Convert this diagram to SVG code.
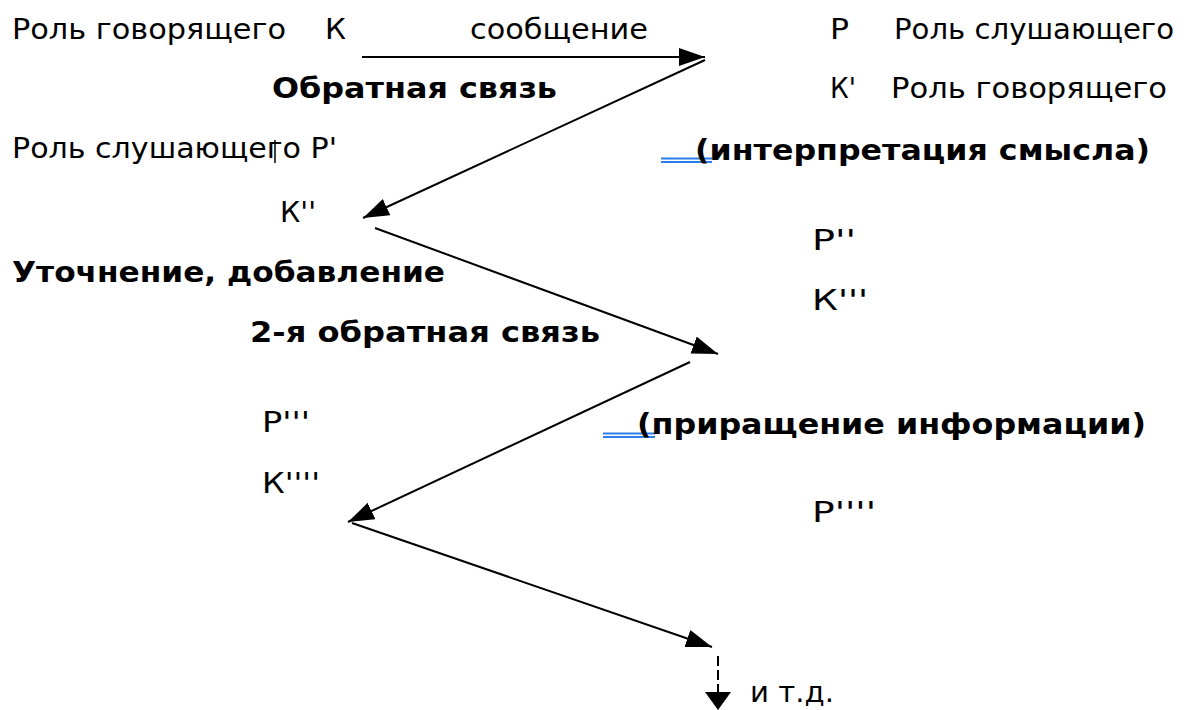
<svg xmlns="http://www.w3.org/2000/svg" width="1193" height="710" viewBox="0 0 1193 710">
<style>
text{font-family:"DejaVu Sans","Verdana",sans-serif;font-size:28px;fill:#000}
.b{font-weight:bold}
.c{stroke:#000;stroke-width:2;fill:none}
.u{stroke:#2b7de9;stroke-width:1.8}
</style>
<defs>
<marker id="ah" markerUnits="userSpaceOnUse" markerWidth="28" markerHeight="20" refX="26" refY="9" orient="auto">
<path d="M0,0 L26,9 L0,18 z" fill="#000"/>
</marker>
<marker id="ahs" markerUnits="userSpaceOnUse" markerWidth="20" markerHeight="28" refX="18" refY="13" orient="auto">
<path d="M0,0 L18,13 L0,26 z" fill="#000"/>
</marker>
</defs>
<rect width="1193" height="710" fill="#fff"/>
<g id="connectors">
<line class="c" x1="362" y1="57" x2="705" y2="57" marker-end="url(#ah)"/>
<line class="c" x1="705" y1="60" x2="363" y2="218" marker-end="url(#ah)"/>
<line class="c" x1="375" y1="228" x2="718" y2="354" marker-end="url(#ah)"/>
<line class="c" x1="690" y1="362" x2="348" y2="522" marker-end="url(#ah)"/>
<line class="c" x1="352" y1="523" x2="712" y2="647" marker-end="url(#ah)"/>
<line class="c" x1="718" y1="656" x2="718" y2="710" stroke-dasharray="10,4" marker-end="url(#ahs)"/>
</g>
<g id="speaker-role"><text x="12" y="39" textLength="274" lengthAdjust="spacingAndGlyphs">Роль говорящего</text></g>
<g id="K"><text x="325" y="39" textLength="21" lengthAdjust="spacingAndGlyphs">К</text></g>
<g id="message"><text x="470" y="39" textLength="178" lengthAdjust="spacingAndGlyphs">сообщение</text></g>
<g id="P"><text x="830" y="39" textLength="19" lengthAdjust="spacingAndGlyphs">Р</text></g>
<g id="listener-role"><text x="894" y="39" textLength="280" lengthAdjust="spacingAndGlyphs">Роль слушающего</text></g>
<g id="feedback"><text class="b" x="272" y="98" textLength="285" lengthAdjust="spacingAndGlyphs">Обратная связь</text></g>
<g id="K1"><text x="830" y="98" textLength="26" lengthAdjust="spacingAndGlyphs">К'</text></g>
<g id="speaker-role2"><text x="891" y="98" textLength="276" lengthAdjust="spacingAndGlyphs">Роль говорящего</text></g>
<g id="listener-role2"><text x="12" y="158" textLength="325" lengthAdjust="spacingAndGlyphs">Роль слушающего Р'</text><line x1="275" y1="140" x2="275" y2="163" stroke="#000" stroke-width="1.5"/></g>
<g id="interpretation"><line class="u" x1="661" y1="158.5" x2="712" y2="158.5"/><line class="u" x1="661" y1="162" x2="712" y2="162"/><text class="b" x="695" y="160" textLength="455" lengthAdjust="spacingAndGlyphs">(интерпретация смысла)</text></g>
<g id="K2"><text x="280" y="222" textLength="36" lengthAdjust="spacingAndGlyphs">К''</text></g>
<g id="P2"><text x="812" y="250" textLength="44" lengthAdjust="spacingAndGlyphs">Р''</text></g>
<g id="clarification"><text class="b" x="12" y="282" textLength="433" lengthAdjust="spacingAndGlyphs">Уточнение, добавление</text></g>
<g id="K3"><text x="812" y="310" textLength="56" lengthAdjust="spacingAndGlyphs">К'''</text></g>
<g id="feedback2"><text class="b" x="250" y="342" textLength="350" lengthAdjust="spacingAndGlyphs">2-я обратная связь</text></g>
<g id="P3"><text x="262" y="432" textLength="48" lengthAdjust="spacingAndGlyphs">Р'''</text></g>
<g id="increment"><line class="u" x1="603" y1="433.5" x2="655" y2="433.5"/><line class="u" x1="603" y1="437" x2="655" y2="437"/><text class="b" x="637" y="434" textLength="509" lengthAdjust="spacingAndGlyphs">(приращение информации)</text></g>
<g id="K4"><text x="262" y="493" textLength="58" lengthAdjust="spacingAndGlyphs">К''''</text></g>
<g id="P4"><text x="812" y="522" textLength="64" lengthAdjust="spacingAndGlyphs">Р''''</text></g>
<g id="etc"><text x="750" y="702" textLength="84" lengthAdjust="spacingAndGlyphs">и т.д.</text></g>
</svg>
